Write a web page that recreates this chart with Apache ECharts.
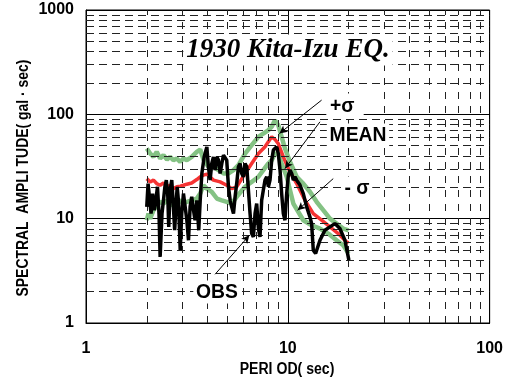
<!DOCTYPE html>
<html>
<head>
<meta charset="utf-8">
<script src="https://cdn.jsdelivr.net/npm/echarts@6/dist/echarts.min.js"></script>
<style>
  html, body { margin: 0; padding: 0; background: #fff; }
  #chart { width: 506px; height: 381px; }
</style>
</head>
<body>
<div id="chart"></div>
<script>
// +sigma curve (green, upper)
const periodPlus = [2.00,2.08,2.16,2.24,2.33,2.42,2.52,2.61,2.71,2.82,2.93,3.04,3.16,3.34,3.54,3.68,3.82,4.04,4.28,4.53,4.80,5.08,5.38,5.69,6.14,6.62,7.15,7.56,8.01,8.32,8.64,8.97,9.32,9.68,10.25,11.06,11.93,12.87,13.89,14.98,16.17,17.44,18.81,20.0]
const ampPlus = [47.0,42.1,39.1,43.7,37.7,40.6,36.9,39.1,36.4,37.7,35.1,37.7,36.4,39.1,43.7,46.0,36.9,31.4,31.4,29.2,27.1,27.1,29.2,32.6,42.1,50.6,60.9,65.5,70.5,76.0,88.0,78.8,60.9,47.0,35.1,25.2,21.7,18.1,14.5,12.05,10.0,8.97,8.04,7.74]

// mean curve (red)
const periodMean = [2.00,2.08,2.16,2.24,2.33,2.42,2.52,2.61,2.71,2.82,2.93,3.04,3.16,3.34,3.54,3.68,3.82,3.97,4.28,4.62,4.98,5.27,5.58,6.14,6.62,7.15,7.71,8.32,8.64,8.97,9.50,10.06,11.06,12.16,13.37,14.70,16.17,17.78,19.54,20.0]
const ampMean = [24.2,22.5,23.4,21.7,20.9,22.0,20.2,20.9,19.4,20.2,20.5,20.9,21.4,22.0,23.7,25.2,26.1,26.7,23.4,22.5,20.9,19.4,20.2,27.1,33.8,42.1,48.8,60.9,57.4,52.5,39.1,30.2,21.7,15.0,11.19,9.66,8.34,7.20,5.98,5.86]

// -sigma curve (green, lower)
const periodMinus = [2.00,2.04,2.08,2.16,2.24,2.33,2.42,2.52,2.61,2.71,2.82,2.93,3.04,3.16,3.34,3.54,3.68,3.82,3.97,4.20,4.45,4.71,4.98,5.27,5.58,6.14,6.62,7.15,7.56,8.01,8.32,8.64,8.97,9.32,9.87,10.65,11.93,13.12,14.43,15.86,17.44,18.81,20.0]
const ampMinus = [9.66,11.19,10.0,12.05,13.45,14.5,13.96,15.0,13.75,13.45,14.17,15.0,13.96,14.5,15.0,15.6,17.4,20.9,19.4,18.1,15.6,15.0,14.5,13.96,16.2,20.2,22.5,25.2,29.2,33.8,36.4,42.1,41.6,33.8,25.2,13.96,9.66,8.65,8.04,7.20,6.21,5.56,4.63]

// observed (black)
const periodObs = [2.00,2.03,2.07,2.10,2.14,2.18,2.22,2.26,2.30,2.33,2.38,2.42,2.46,2.50,2.54,2.57,2.61,2.66,2.70,2.75,2.79,2.83,2.87,2.93,2.98,3.04,3.10,3.16,3.22,3.28,3.34,3.41,3.47,3.54,3.62,3.68,3.75,3.85,3.97,4.04,4.12,4.20,4.28,4.36,4.45,4.53,4.62,4.71,4.80,4.89,4.98,5.08,5.18,5.27,5.38,5.48,5.58,5.69,5.80,5.91,6.02,6.14,6.26,6.38,6.50,6.62,6.75,6.88,7.01,7.15,7.28,7.42,7.56,7.71,7.86,8.01,8.16,8.32,8.48,8.81,8.97,9.15,9.32,9.50,9.68,9.87,10.06,10.25,10.45,10.65,10.85,11.06,11.49,11.71,11.93,12.40,12.87,13.12,13.37,13.73,14.43,15.27,16.17,17.11,18.11,19.18,20.07]
const ampObs = [12.97,21.7,15.0,11.19,17.4,12.05,15.0,20.2,11.19,4.30,11.19,15.0,20.2,23.4,17.4,8.34,18.7,23.4,15.0,7.74,12.97,20.2,15.0,4.98,11.19,17.4,12.97,9.66,6.21,12.97,16.2,12.05,9.66,15.0,7.74,15.0,27.1,39.1,48.8,31.4,23.4,33.8,39.1,29.2,39.1,36.4,27.1,33.8,40.6,42.1,36.4,20.2,15.0,12.97,11.19,16.2,21.7,31.4,33.8,27.1,25.2,33.8,31.4,18.7,11.19,7.20,6.69,11.19,13.96,8.04,6.69,15.0,18.7,23.4,25.2,20.2,23.4,36.4,45.4,48.8,42.1,29.2,17.4,11.19,9.66,17.4,26.1,29.2,27.1,23.4,25.2,23.4,21.0,21.0,17.4,12.97,10.40,8.97,4.98,4.63,6.21,7.74,8.34,8.97,8.04,6.21,4.0]

// minor grid values
const minorX = [2,3,4,5,6,7,8,9,20,30,40,50,60,70,80,90]
const minorY = [2,3,4,5,6,7,8,9,20,30,40,50,60,70,80,90,200,300,400,500,600,700,800,900]

// annotation arrows: [from, to] in data coords
const arrowPlus = [[14.70, 136.8], [9.08, 65.5]]
const arrowMean = [[14.43, 84.8], [9.68, 30.2]]
const arrowMinus = [[16.79, 24.2], [11.18, 12.05]]
const arrowObs = [[4.36, 2.93], [6.45, 6.93]]

const zip = (xs, ys) => xs.map((x, i) => [x, ys[i]])

const chart = echarts.init(document.getElementById('chart'), null, { renderer: 'canvas' })

const sans = '"Liberation Sans", Arial, sans-serif'
const labelText = (text, x, y, pad) => ({
  type: 'text',
  x, y,
  scaleX: 0.92,
  z: 20,
  style: {
    text,
    font: 'bold 21px ' + sans,
    fill: '#000',
    align: 'center',
    verticalAlign: 'middle',
    backgroundColor: '#fff',
    padding: pad || [1, 3, 1, 3],
  },
})

const arrowLine = (a) => [{ coord: a[0] }, { coord: a[1] }]

chart.setOption({
  animation: false,
  grid: {
    left: 86,
    right: 16,
    top: 10,
    bottom: 58,
    show: true,
    borderColor: '#000',
    borderWidth: 1,
  },
  xAxis: {
    type: 'log',
    logBase: 10,
    min: 1,
    max: 100,
    axisLine: { show: true, lineStyle: { color: '#000', width: 1 } },
    axisTick: { show: false },
    axisLabel: {
      color: '#000',
      fontFamily: sans,
      fontWeight: 'bold',
      fontSize: 16,
      margin: 18,
      formatter: (v) => String(Math.round(v)),
    },
    splitLine: { show: true, lineStyle: { color: '#000', width: 1 } },
  },
  yAxis: {
    type: 'log',
    logBase: 10,
    min: 1,
    max: 1000,
    axisLine: { show: true, lineStyle: { color: '#000', width: 1 } },
    axisTick: { show: false },
    axisLabel: {
      color: '#000',
      fontFamily: sans,
      fontWeight: 'bold',
      fontSize: 16,
      margin: 12,
      padding: [10, 0, 0, 0],
      formatter: (v) => String(Math.round(v)),
    },
    splitLine: { show: true, lineStyle: { color: '#000', width: 1 } },
  },
  graphic: [
    {
      type: 'text',
      x: 288, y: 50,
      z: 20,
      style: {
        text: '1930 Kita-Izu EQ.',
        font: 'italic bold 27px "Liberation Serif", "Times New Roman", serif',
        fill: '#000',
        align: 'center',
        verticalAlign: 'middle',
        backgroundColor: '#fff',
        padding: [2, 3, 2, 3],
      },
    },
    {
      type: 'text',
      x: 23, y: 178,
      rotation: Math.PI / 2,
      scaleX: 0.82,
      style: {
        text: 'SPECTRAL  AMPLI TUDE( gal · sec)',
        font: 'bold 17px ' + sans,
        fill: '#000',
        align: 'center',
        verticalAlign: 'middle',
      },
    },
    {
      type: 'text',
      x: 287, y: 370,
      scaleX: 0.88,
      style: {
        text: 'PERI OD( sec)',
        font: 'bold 16px ' + sans,
        fill: '#000',
        align: 'center',
        verticalAlign: 'middle',
      },
    },
    labelText('+σ', 345, 106, [2, 10, 2, 4]),
    labelText('MEAN', 358, 135),
    labelText('- σ', 357, 188),
    labelText('OBS', 217, 292),
  ],
  series: [
    {
      name: 'grid',
      type: 'line',
      data: [],
      silent: true,
      z: 1,
      markLine: {
        silent: true,
        symbol: 'none',
        animation: false,
        label: { show: false },
        lineStyle: { color: '#222', width: 1, type: [7, 5] },
        data: [
          ...minorX.map((v) => ({ xAxis: v, lineStyle: { color: '#222', width: 1, type: [7, 7] } })),
          ...minorY.map((v) => ({ yAxis: v, lineStyle: { color: '#222', width: 1, type: [8, 5] } })),
        ],
      },
    },
    {
      name: '+σ',
      type: 'line',
      data: zip(periodPlus, ampPlus),
      showSymbol: false,
      lineStyle: { color: '#84c284', width: 4.5 },
      z: 3,
    },
    {
      name: '-σ',
      type: 'line',
      data: zip(periodMinus, ampMinus),
      showSymbol: false,
      lineStyle: { color: '#84c284', width: 4.5 },
      z: 3,
    },
    {
      name: 'MEAN',
      type: 'line',
      data: zip(periodMean, ampMean),
      showSymbol: false,
      lineStyle: { color: '#f53333', width: 3.5 },
      z: 4,
    },
    {
      name: 'OBS',
      type: 'line',
      data: zip(periodObs, ampObs),
      showSymbol: false,
      lineStyle: { color: '#000', width: 3.5 },
      z: 5,
      markLine: {
        silent: true,
        symbol: ['none', 'arrow'],
        symbolSize: [6, 8],
        animation: false,
        label: { show: false },
        lineStyle: { color: '#000', width: 1, type: 'solid' },
        data: [arrowLine(arrowPlus), arrowLine(arrowMean), arrowLine(arrowMinus), arrowLine(arrowObs)],
      },
    },
  ],
})
</script>
</body>
</html>
